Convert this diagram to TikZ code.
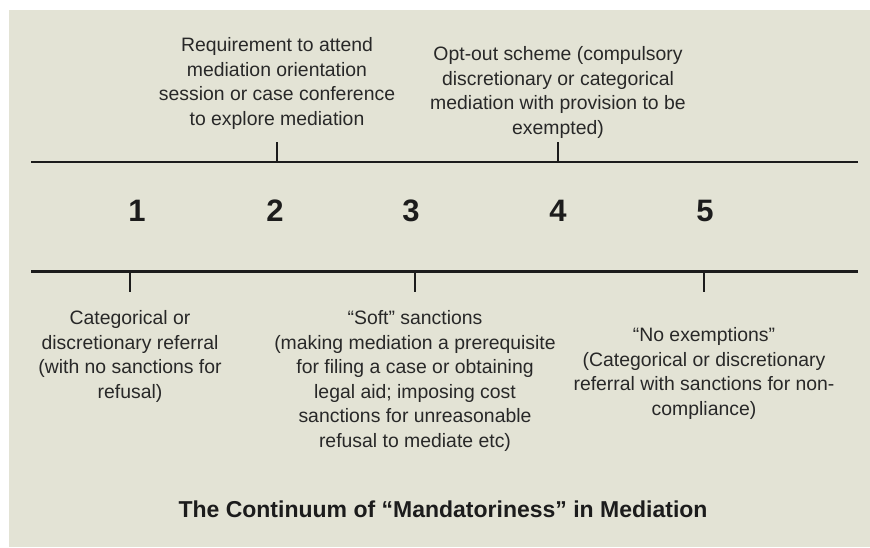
\documentclass[tikz,border=0pt]{standalone}
\usepackage{fontspec}
\setmainfont{Liberation Sans}
\definecolor{bgc}{RGB}{227,227,213}
\definecolor{ink}{RGB}{40,40,40}
\definecolor{dark}{RGB}{28,28,28}
\tikzset{
  body/.style={font=\fontsize{19.4}{24.6}\selectfont, text=ink, align=center, inner sep=0pt},
  numlab/.style={font=\fontsize{31}{33}\selectfont\bfseries, text=dark, inner sep=0pt},
  titlelab/.style={font=\fontsize{23}{26}\selectfont\bfseries, text=dark, inner sep=0pt},
  axis/.style={draw=dark, line width=2.2pt},
  tickmark/.style={draw=dark, line width=2pt}
}
\begin{document}
\begin{tikzpicture}[x=1pt,y=-1pt]
\useasboundingbox (0,0) rectangle (870,547);
\fill[bgc] (9,10) rectangle (870,547);

% axes
\coordinate (tl) at (31,162);
\coordinate (tr) at (858,162);
\coordinate (bl) at (31,271.5);
\coordinate (br) at (858,271.5);
\draw[axis] (tl) -- (tr);
\draw[axis] (bl) -- (br);

% ticks
\coordinate (u2a) at (277,142); \coordinate (u2b) at (277,162);
\coordinate (u4a) at (558,142); \coordinate (u4b) at (558,162);
\coordinate (d1a) at (130,271.5); \coordinate (d1b) at (130,292);
\coordinate (d3a) at (415,271.5); \coordinate (d3b) at (415,292);
\coordinate (d5a) at (704,271.5); \coordinate (d5b) at (704,292);
\draw[tickmark] (u2a) -- (u2b);
\draw[tickmark] (u4a) -- (u4b);
\draw[tickmark] (d1a) -- (d1b);
\draw[tickmark] (d3a) -- (d3b);
\draw[tickmark] (d5a) -- (d5b);

% numbers
\node[numlab] (n1) at (137,210.5) {1};
\node[numlab] (n2) at (275,210.5) {2};
\node[numlab] (n3) at (411,210.5) {3};
\node[numlab] (n4) at (558,210.5) {4};
\node[numlab] (n5) at (705,210.5) {5};

% texts
\node[body] (t2) at (277,83.5) {Requirement to attend\\mediation orientation\\session or case conference\\to explore mediation};
\node[body] (t4) at (558,92.5) {Opt-out scheme (compulsory\\discretionary or categorical\\mediation with provision to be\\exempted)};
\node[body] (t1) at (130,356.5) {Categorical or\\discretionary referral\\(with no sanctions for\\refusal)};
\node[body] (t3) at (415,381) {“Soft” sanctions\\(making mediation a prerequisite\\for filing a case or obtaining\\legal aid; imposing cost\\sanctions for unreasonable\\refusal to mediate etc)};
\node[body] (t5) at (704,373.5) {“No exemptions”\\(Categorical or discretionary\\referral with sanctions for non-\\compliance)};

% title
\node[titlelab] (title) at (443,509) {The Continuum of “Mandatoriness” in Mediation};
\end{tikzpicture}
\end{document}
